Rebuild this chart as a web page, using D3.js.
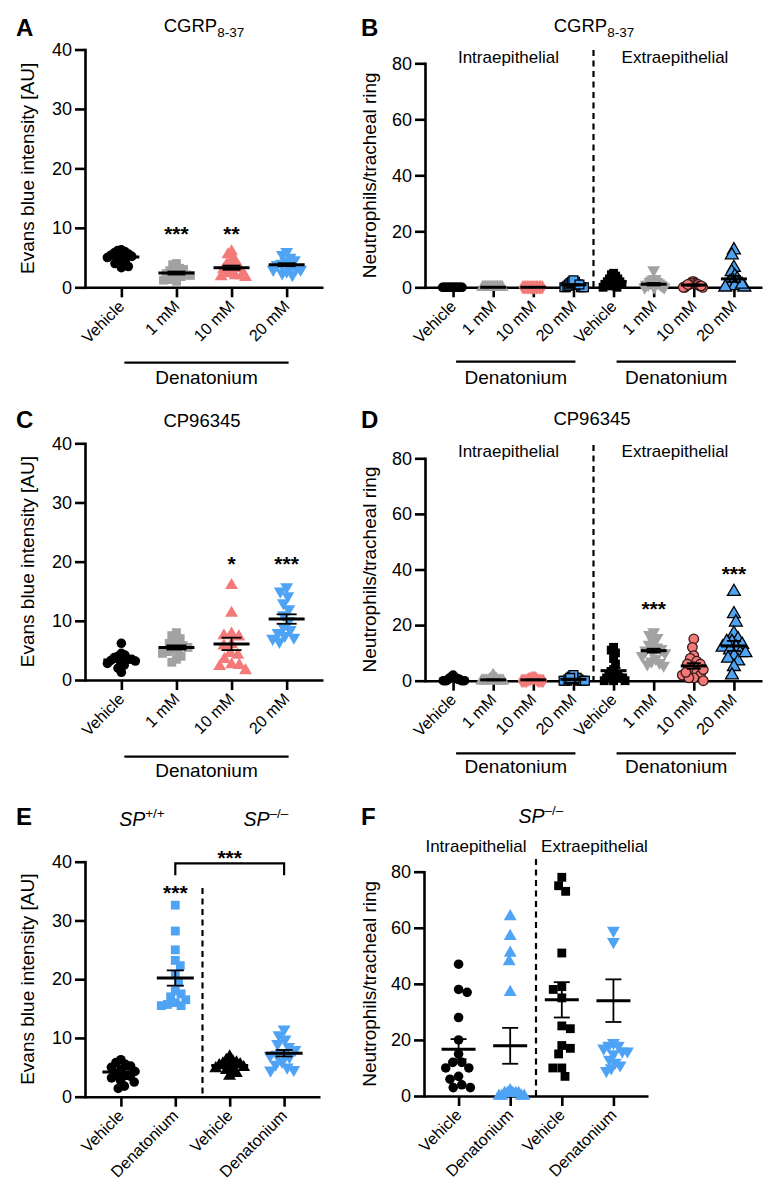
<!DOCTYPE html>
<html><head><meta charset="utf-8">
<script src="https://cdn.jsdelivr.net/npm/d3@7"></script>
<style>body{margin:0;background:#fff} svg{display:block}</style>
</head><body>
<svg id="chart" width="779" height="1202"></svg>
<script>
// ---------------- DATA ----------------
const catsAC = ["Vehicle", "1 mM", "10 mM", "20 mM"];
const catsBD = ["Vehicle", "1 mM", "10 mM", "20 mM", "Vehicle", "1 mM", "10 mM", "20 mM"];
const catsEF = ["Vehicle", "Denatonium", "Vehicle", "Denatonium"];
const ticks40 = [0, 10, 20, 30, 40];
const ticks80 = [0, 20, 40, 60, 80];

// Panel A (CGRP8-37, Evans blue)
const A_vehicle = [6.3, 6.2, 6.0, 5.8, 5.6, 5.4, 5.2, 5.0, 4.8, 4.6, 4.3, 4.0, 3.5, 3.3];
const A_1mM = [4.0, 3.8, 3.2, 3.0, 2.8, 2.5, 2.3, 2.1, 2.0, 1.8, 1.5, 1.2, 1.0, 1.3];
const A_10mM = [6.0, 5.5, 4.8, 4.2, 3.8, 3.5, 3.2, 3.0, 2.6, 2.3, 2.0, 1.8, 1.7, 2.0];
const A_20mM = [6.0, 5.5, 5.0, 4.6, 4.3, 4.0, 3.8, 3.5, 3.2, 3.0, 2.7, 2.4, 2.1, 3.0];
const A_mean = [5.1, 2.4, 3.3, 3.8];
const A_sem = [0.3, 0.25, 0.35, 0.25];

// Panel B (CGRP8-37, neutrophils)
const B_intra_vehicle = [0, 0, 0, 0, 0, 0, 0, 0, 0, 0, 0, 0, 0, 0];
const B_intra_1mM = [0, 0, 0, 0, 0, 0, 0, 0, 0, 0, 0, 0, 0, 0];
const B_intra_10mM = [0, 0, 0, 0, 0, 0, 0, 0, 0, 0, 0, 0, 0, 0];
const B_intra_20mM = [0, 0, 0, 0, 0.5, 1, 1, 1, 1.5, 2, 2, 2.5, 0, 1];
const B_extra_vehicle = [5, 4.5, 4, 3, 3, 2, 2, 2, 1, 1, 1, 0, 0, 0.5];
const B_extra_1mM = [6.2, 3, 3, 2.5, 2, 1.5, 1, 1, 0.5, 0, 0, 0, 1, 2];
const B_extra_10mM = [2, 2, 1.5, 1.5, 1, 1, 1, 0.5, 0.5, 0, 0, 0, 1, 0.5];
const B_extra_20mM = [13.3, 11.5, 7, 5.5, 4, 3, 2.5, 2, 1.5, 1, 0.5, 0, 0, 1];
const B_mean = [0, 0, 0, 0.9, 2.1, 1.1, 0.8, 3.0];
const B_sem = [0, 0, 0, 0.25, 0.45, 0.45, 0.2, 1.1];

// Panel C (CP96345, Evans blue)
const C_vehicle = [6.2, 4.5, 4.2, 4.0, 3.8, 3.5, 3.3, 3.2, 3.0, 2.8, 2.5, 2.0, 1.3, 3.5];
const C_1mM = [8.0, 7.5, 7.0, 6.5, 6.2, 5.8, 5.5, 5.2, 4.8, 4.5, 4.0, 3.5, 3.0, 5.0];
const C_10mM = [16.0, 11.3, 7.8, 7.5, 7.3, 6.0, 5.8, 4.5, 4.2, 3.5, 2.6, 2.5, 2.3, 1.6];
const C_20mM = [15.7, 15.0, 14.2, 13.0, 12.0, 11.0, 10.0, 9.0, 8.5, 8.0, 7.5, 7.0, 6.5, 7.2];
const C_mean = [3.4, 5.5, 6.1, 10.3];
const C_sem = [0.35, 0.35, 1.05, 0.8];

// Panel D (CP96345, neutrophils)
const D_intra_vehicle = [0, 0, 0, 0, 0.5, 0.5, 1, 1, 1, 1.5, 2, 0, 0, 0.5];
const D_intra_1mM = [0, 0, 0, 0, 0, 0, 0.5, 1, 1, 2, 0, 0, 0, 0.5];
const D_intra_10mM = [0, 0, 0, 0, 0.5, 0.5, 1, 1, 1, 0, 0, 0, 0.5, 0];
const D_intra_20mM = [0, 0, 0, 0, 0.5, 1, 1, 1.5, 2, 0, 0, 0.5, 0, 1];
const D_extra_vehicle = [12, 11, 10, 8, 6, 4, 3, 2, 2, 1, 1, 0, 0, 1, 0, 2];
const D_extra_1mM = [17.5, 16.5, 15.5, 14.0, 13.0, 12.0, 11.0, 10.5, 10.0, 9.0, 8.0, 7.0, 6.0, 5.5, 6.5, 11.5];
const D_extra_10mM = [15, 12, 9, 8, 7, 6, 6, 5, 4, 3, 2, 2, 1, 1, 0, 3, 4];
const D_extra_20mM = [32, 24, 21, 17, 15, 14, 13, 12, 12, 11, 10, 9, 8, 7, 5, 2, 14, 10];
const D_mean = [0.4, 0.3, 0.3, 0.5, 3.6, 10.8, 5.3, 12.5];
const D_sem = [0.15, 0.15, 0.1, 0.2, 1.0, 0.7, 1.0, 1.8];

// Panel E (SP+/+ vs SP-/-, Evans blue)
const E_wt_vehicle = [6.3, 5.8, 5.5, 5.2, 5.0, 4.6, 4.3, 4.0, 3.6, 3.2, 2.8, 2.5, 1.8, 1.4, 3.5];
const E_wt_den = [32.6, 28.2, 25.0, 23.2, 22.3, 20.8, 19.5, 18.0, 17.5, 17.0, 16.5, 16.0, 15.7, 15.5, 15.5];
const E_ko_vehicle = [6.8, 6.2, 6.0, 5.8, 5.5, 5.3, 5.0, 4.8, 4.5, 4.3, 4.0, 3.5, 5.2, 5.6];
const E_ko_den = [11.5, 10.5, 9.8, 9.0, 8.5, 8.0, 7.5, 7.2, 6.8, 6.0, 5.5, 5.0, 4.5, 4.6, 7.0];
const E_mean = [4.2, 20.2, 5.3, 7.4];
const E_sem = [0.4, 1.3, 0.3, 0.55];

// Panel F (SP-/-, neutrophils)
const F_intra_vehicle = [47, 38, 37, 28, 20, 15, 12, 10, 10, 7, 6, 4, 3, 3, 12];
const F_intra_den = [64, 57, 51, 48, 37, 2, 1, 1, 1, 1, 1, 0, 0, 0, 0];
const F_extra_vehicle = [78, 75, 73, 51, 39, 38, 35, 25, 24, 18, 17, 15, 10, 10, 7];
const F_extra_den = [59, 55, 19, 18, 18, 17, 16, 16, 15, 13, 12, 11, 10, 9];
const F_mean = [16.7, 17.9, 34.3, 34.0];
const F_sem = [3.6, 6.4, 6.3, 7.6];

// ---------------- STYLE ----------------
const FONT = "'Liberation Sans', Arial, Helvetica, sans-serif";
const BLACK = "#000", GRAY = "#a2a2a2", SALMON = "#f47a7a", BLUE = "#4fa3f5";
const st = (shape, fill, stroke) => ({shape, fill, stroke});
const stylesAC = [st("circle", BLACK), st("square", GRAY), st("triangle", SALMON), st("triDown", BLUE)];
const stylesBD = [st("circle", BLACK), st("triangle", GRAY), st("diamond", SALMON), st("square", BLUE, "#000"),
                  st("square", BLACK), st("triDown", GRAY), st("circle", SALMON, "#3a1a1a"), st("triangle", BLUE, "#000")];
const stylesE = [st("circle", BLACK), st("square", BLUE), st("triangle", BLACK), st("triDown", BLUE)];
const stylesF = [st("circle", BLACK), st("triangle", BLUE), st("square", BLACK), st("triDown", BLUE)];

const svg = d3.select("#chart");

function symbolPath(shape) {
  const map = {
    circle: [d3.symbolCircle, 72],
    square: [d3.symbolSquare, 78],
    triangle: [d3.symbolTriangle, 72],
    triDown: [d3.symbolTriangle, 72],
    diamond: [d3.symbolDiamond, 60]
  };
  const [t, s] = map[shape];
  return d3.symbol().type(t).size(s)();
}

function swarm(ys, D, maxHalf) {
  const order = d3.range(ys.length).sort((a, b) => ys[a] - ys[b]);
  const xs = new Array(ys.length).fill(0);
  const placed = [];
  let flip = 1;
  for (const i of order) {
    const yi = ys[i];
    const cands = [0];
    for (const p of placed) {
      const dy = Math.abs(p.y - yi);
      if (dy < D) { const dx = Math.sqrt(D * D - dy * dy); cands.push(p.x + dx, p.x - dx); }
    }
    cands.sort((a, b) => (Math.abs(a) - Math.abs(b)) || (b - a) * flip);
    let chosen = 0;
    for (const c of cands) {
      if (placed.every(p => (p.x - c) ** 2 + (p.y - yi) ** 2 >= D * D - 0.01)) { chosen = c; break; }
    }
    flip = -flip;
    xs[i] = chosen;
    placed.push({x: chosen, y: yi});
  }
  const m = d3.max(xs, Math.abs);
  if (m > maxHalf) for (let k = 0; k < xs.length; k++) xs[k] *= maxHalf / m;
  return xs;
}

function drawPanel(c) {
  const g = svg.append("g");
  const y = d3.scaleLinear().domain([0, c.yMax]).range([c.yZero, c.yTop]);
  const x = d3.scalePoint().domain(d3.range(c.cats.length)).range([c.x0, c.x1]).padding(c.pad);
  const step = x.step();

  const ya = g.append("g").attr("transform", `translate(${c.x0},0)`)
    .call(d3.axisLeft(y).tickValues(c.ticks).tickSize(10).tickPadding(3).tickSizeOuter(0));
  const xa = g.append("g").attr("transform", `translate(0,${c.yZero})`)
    .call(d3.axisBottom(x).tickSize(10).tickSizeOuter(0).tickFormat(""));
  [ya, xa].forEach(a => {
    a.selectAll("path,line").attr("stroke", "#000").attr("stroke-width", 2.6);
    a.selectAll("text").attr("font-family", FONT).attr("font-size", 18).attr("fill", "#000");
  });
  ya.select(".domain").attr("stroke-linecap", "square");

  c.cats.forEach((name, i) => {
    g.append("text").attr("transform", `translate(${x(i) + 4},${c.yZero + 20}) rotate(-45)`)
      .attr("text-anchor", "end").attr("font-family", FONT).attr("font-size", 16.2).text(name);
  });

  if (c.divider !== undefined) {
    const dx = (x(c.divider - 1) + x(c.divider)) / 2;
    g.append("line").attr("x1", dx).attr("x2", dx).attr("y1", c.dashTop).attr("y2", c.yZero)
      .attr("stroke", "#000").attr("stroke-width", 2.2).attr("stroke-dasharray", "6,4.5");
  }

  c.data.forEach((vals, i) => {
    const s = c.styles[i];
    const ys = vals.map(v => y(v));
    const xs = swarm(ys, 9, c.maxHalf);
    const path = symbolPath(s.shape);
    g.append("g").selectAll("path").data(vals).join("path")
      .attr("d", path)
      .attr("transform", (v, k) => `translate(${x(i) + xs[k]},${ys[k]})${s.shape === "triDown" ? " rotate(180)" : ""}`)
      .attr("fill", s.fill)
      .attr("stroke", s.stroke || "none")
      .attr("stroke-width", s.stroke ? 1.3 : 0);
  });

  c.means.forEach((m, i) => {
    const cx = x(i), se = c.sems[i];
    if (se > 0) {
      g.append("line").attr("x1", cx).attr("x2", cx).attr("y1", y(m - se)).attr("y2", y(m + se))
        .attr("stroke", "#000").attr("stroke-width", 1.8);
      [m - se, m + se].forEach(v => g.append("line").attr("x1", cx - c.capHalf).attr("x2", cx + c.capHalf)
        .attr("y1", y(v)).attr("y2", y(v)).attr("stroke", "#000").attr("stroke-width", 1.8));
    }
    g.append("line").attr("x1", cx - c.meanHalf).attr("x2", cx + c.meanHalf)
      .attr("y1", y(m)).attr("y2", y(m)).attr("stroke", "#000").attr("stroke-width", 3);
  });

  (c.stars || []).forEach(s => {
    const sx = s.i2 !== undefined ? (x(s.i) + x(s.i2)) / 2 : x(s.i);
    g.append("text").attr("x", sx).attr("y", y(s.v) + 21 * 0.58)
      .attr("text-anchor", "middle").attr("font-family", FONT).attr("font-weight", "bold")
      .attr("font-size", 21).text(s.label);
  });

  if (c.bracket) {
    const b = c.bracket;
    g.append("path").attr("d", `M${x(b.i)},${y(b.low)}V${y(b.high)}H${x(b.i2)}V${y(b.low)}`)
      .attr("fill", "none").attr("stroke", "#000").attr("stroke-width", 2.2);
  }

  (c.groups || []).forEach(gr => {
    const a = x(gr.from) - step + 3, bnd = x(gr.to) + 2;
    g.append("line").attr("x1", a).attr("x2", bnd).attr("y1", c.grpY).attr("y2", c.grpY)
      .attr("stroke", "#000").attr("stroke-width", 2.2);
    g.append("text").attr("x", (a + bnd) / 2).attr("y", c.grpY + c.grpGap)
      .attr("text-anchor", "middle").attr("font-family", FONT).attr("font-size", 19).text(gr.label);
  });

  g.append("text").attr("transform", `translate(${c.ylabX},${(c.yZero + c.yTop) / 2}) rotate(-90)`)
    .attr("text-anchor", "middle").attr("font-family", FONT).attr("font-size", 19).text(c.ylabel);
}

const YL1 = "Evans blue intensity [AU]";
const YL2 = "Neutrophils/tracheal ring";

drawPanel({x0: 85, x1: 323, yZero: 287.3, yTop: 49.5, yMax: 40, ticks: ticks40, cats: catsAC, pad: 0.66,
  data: [A_vehicle, A_1mM, A_10mM, A_20mM], means: A_mean, sems: A_sem, styles: stylesAC,
  maxHalf: 14, meanHalf: 18, capHalf: 9, ylabel: YL1, ylabX: 33.5,
  stars: [{i: 1, v: 9.9, label: "***"}, {i: 2, v: 9.9, label: "**"}],
  groups: [{from: 1, to: 3, label: "Denatonium"}], grpY: 362.7, grpGap: 21.5});

drawPanel({x0: 425, x1: 762, yZero: 287.3, yTop: 63.3, yMax: 80, ticks: ticks80, cats: catsBD, pad: 0.7,
  data: [B_intra_vehicle, B_intra_1mM, B_intra_10mM, B_intra_20mM, B_extra_vehicle, B_extra_1mM, B_extra_10mM, B_extra_20mM],
  means: B_mean, sems: B_sem, styles: stylesBD, divider: 4, dashTop: 50,
  maxHalf: 10.5, meanHalf: 13, capHalf: 7, ylabel: YL2, ylabX: 376,
  groups: [{from: 1, to: 3, label: "Denatonium"}, {from: 5, to: 7, label: "Denatonium"}], grpY: 361.7, grpGap: 22});

drawPanel({x0: 85, x1: 323, yZero: 680, yTop: 443.3, yMax: 40, ticks: ticks40, cats: catsAC, pad: 0.66,
  data: [C_vehicle, C_1mM, C_10mM, C_20mM], means: C_mean, sems: C_sem, styles: stylesAC,
  maxHalf: 14, meanHalf: 18, capHalf: 10, ylabel: YL1, ylabX: 33.5,
  stars: [{i: 2, v: 20.4, label: "*"}, {i: 3, v: 20.4, label: "***"}],
  groups: [{from: 1, to: 3, label: "Denatonium"}], grpY: 756.7, grpGap: 20});

drawPanel({x0: 425, x1: 762, yZero: 680.7, yTop: 458.3, yMax: 80, ticks: ticks80, cats: catsBD, pad: 0.7,
  data: [D_intra_vehicle, D_intra_1mM, D_intra_10mM, D_intra_20mM, D_extra_vehicle, D_extra_1mM, D_extra_10mM, D_extra_20mM],
  means: D_mean, sems: D_sem, styles: stylesBD, divider: 4, dashTop: 445,
  maxHalf: 11.5, meanHalf: 13, capHalf: 7, ylabel: YL2, ylabX: 376,
  stars: [{i: 5, v: 27.8, label: "***"}, {i: 7, v: 40.4, label: "***"}],
  groups: [{from: 1, to: 3, label: "Denatonium"}, {from: 5, to: 7, label: "Denatonium"}], grpY: 753.3, grpGap: 19.5});

drawPanel({x0: 85, x1: 320, yZero: 1096.7, yTop: 861.7, yMax: 40, ticks: ticks40, cats: catsEF, pad: 0.66,
  data: [E_wt_vehicle, E_wt_den, E_ko_vehicle, E_ko_den], means: E_mean, sems: E_sem, styles: stylesE,
  divider: 2, dashTop: 888, maxHalf: 14, meanHalf: 18.5, capHalf: 8.5, ylabel: YL1, ylabX: 33.5,
  stars: [{i: 1, v: 35.5, label: "***"}, {i: 1, i2: 3, v: 41.5, label: "***"}],
  bracket: {i: 1, i2: 3, low: 37.7, high: 39.7}});

drawPanel({x0: 424, x1: 648, yZero: 1096, yTop: 871.7, yMax: 80, ticks: ticks80, cats: catsEF, pad: 0.67,
  data: [F_intra_vehicle, F_intra_den, F_extra_vehicle, F_extra_den], means: F_mean, sems: F_sem, styles: stylesF,
  divider: 2, dashTop: 859, maxHalf: 14, meanHalf: 17, capHalf: 8, ylabel: YL2, ylabX: 376});

// ---------------- ANNOTATIONS ----------------
function txt(x, y, s, size, opts = {}) {
  const t = svg.append("text").attr("x", x).attr("y", y).attr("font-family", FONT).attr("font-size", size)
    .attr("text-anchor", opts.anchor || "middle");
  if (opts.bold) t.attr("font-weight", "bold");
  if (opts.italic) t.attr("font-style", "italic");
  t.text(s);
  return t;
}
function withSub(t, sub, size, dy) {
  t.append("tspan").attr("font-size", size).attr("dy", dy).attr("font-style", "normal").text(sub);
}
[["A", 16, 36], ["B", 361, 36], ["C", 16, 428], ["D", 361, 428], ["E", 16, 825], ["F", 361, 825]]
  .forEach(([l, x, y]) => txt(x, y, l, 24, {bold: true, anchor: "start"}).attr("font-weight", 900));
withSub(txt(204, 32, "CGRP", 18.5), "8-37", 13.5, 5);
withSub(txt(594, 32, "CGRP", 18.5), "8-37", 13.5, 5);
txt(202, 427, "CP96345", 18.5);
txt(592, 425, "CP96345", 18.5);
withSub(txt(142, 826, "SP", 19.5, {italic: true}), "+/+", 13.5, -8);
withSub(txt(266, 826, "SP", 19.5, {italic: true}), "–/–", 13.5, -8);
withSub(txt(541, 823, "SP", 19.5, {italic: true}), "–/–", 13.5, -8);
txt(508.5, 63, "Intraepithelial", 17);
txt(675, 63, "Extraepithelial", 17);
txt(508.5, 457, "Intraepithelial", 17);
txt(675, 457, "Extraepithelial", 17);
txt(476, 852, "Intraepithelial", 17);
txt(594.5, 852, "Extraepithelial", 17);
</script>
</body></html>
